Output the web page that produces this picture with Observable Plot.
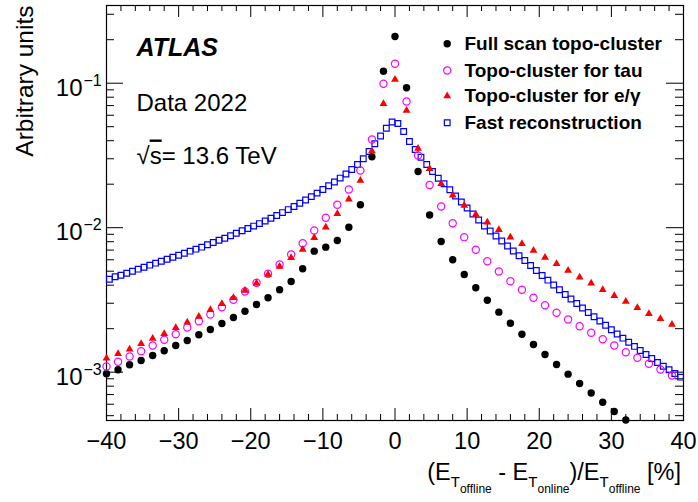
<!DOCTYPE html>
<html><head><meta charset="utf-8">
<script src="https://cdn.jsdelivr.net/npm/d3@7"></script>
<script src="https://cdn.jsdelivr.net/npm/@observablehq/plot@0.6"></script>
<style>
html,body{margin:0;padding:0;background:#fff;}
#chart{width:698px;height:502px;}
</style></head><body><div id="chart"></div>
<script>
// Bin centres (coarse binning for the topo-cluster series, fine for fast reconstruction)
const xCoarse = [-40,-38.4,-36.8,-35.2,-33.6,-32,-30.4,-28.8,-27.2,-25.6,
  -24,-22.4,-20.8,-19.2,-17.6,-16,-14.4,-12.8,-11.2,-9.6,
  -8,-6.4,-4.8,-3.2,-1.6,0,1.6,3.2,4.8,6.4,
  8,9.6,11.2,12.8,14.4,16,17.6,19.2,20.8,22.4,
  24,25.6,27.2,28.8,30.4,32,33.6,35.2,36.8,38.4];
const xFine = [-39.6,-38.8,-38,-37.2,-36.4,-35.6,-34.8,-34,-33.2,-32.4,
  -31.6,-30.8,-30,-29.2,-28.4,-27.6,-26.8,-26,-25.2,-24.4,
  -23.6,-22.8,-22,-21.2,-20.4,-19.6,-18.8,-18,-17.2,-16.4,
  -15.6,-14.8,-14,-13.2,-12.4,-11.6,-10.8,-10,-9.2,-8.4,
  -7.6,-6.8,-6,-5.2,-4.4,-3.6,-2.8,-2,-1.2,-0.4,
  0.4,1.2,2,2.8,3.6,4.4,5.2,6,6.8,7.6,
  8.4,9.2,10,10.8,11.6,12.4,13.2,14,14.8,15.6,
  16.4,17.2,18,18.8,19.6,20.4,21.2,22,22.8,23.6,
  24.4,25.2,26,26.8,27.6,28.4,29.2,30,30.8,31.6,
  32.4,33.2,34,34.8,35.6,36.4,37.2,38,38.8,39.6];

const fullScan = [0.000975,0.001039,0.001125,0.001205,0.001305,0.001407,0.00153,0.001657,0.001815,0.001975,
  0.002173,0.00239,0.002643,0.002941,0.003273,0.003717,0.004243,0.005195,0.006879,0.007332,
  0.008155,0.01008,0.01441,0.03095,0.1211,0.2104,0.09294,0.02448,0.01224,0.008026,
  0.006004,0.004745,0.003838,0.00315,0.002602,0.00218,0.001829,0.001555,0.001326,0.001131,
  0.000969,0.000835,0.000718,0.000619,0.000535,0.000467,null,null,null,null];
const topoTau = [0.001095,0.00118,0.001284,0.001398,0.00153,0.001676,0.001832,0.002038,0.002254,0.002508,
  0.002817,0.00317,0.003618,0.004156,0.004797,0.005564,0.006524,0.007811,0.009563,0.01171,
  0.01441,0.01838,0.02488,0.04078,0.09904,0.1362,0.0747,0.0316,0.01975,0.01402,
  0.01074,0.0086,0.007034,0.005863,0.004977,0.004264,0.003717,0.003273,0.002909,0.002577,
  0.002316,0.002081,0.001874,0.001692,0.00153,0.001375,0.001258,0.001143,0.001044,0.000949];
const topoEgamma = [0.00125,0.00134,0.001443,0.001572,0.001711,0.001844,0.002029,0.002218,0.002429,0.002703,
  0.002975,0.003273,0.003676,0.00413,0.004745,0.005389,0.006189,0.007066,0.008513,0.01008,
  0.01248,0.01575,0.02121,0.03395,0.07203,0.1061,0.06473,0.03533,0.02557,0.02013,
  0.01679,0.01425,0.01234,0.01092,0.009672,0.0086,0.007738,0.006955,0.006219,0.005627,
  0.005057,0.004545,0.00413,0.003717,0.003379,0.003085,0.002791,0.002537,0.002342,0.002138];
const fastReco = [0.004401,0.004572,0.004691,0.004842,0.005,0.005162,0.005329,0.005502,0.00568,0.005863,
  0.006053,0.006248,0.006451,0.00666,0.006879,0.0071,0.007332,0.007616,0.0079,0.008194,
  0.008459,0.008788,0.00916,0.009517,0.009874,0.01026,0.01068,0.01113,0.01162,0.01214,
  0.01272,0.01334,0.01402,0.01476,0.01555,0.01641,0.01735,0.01838,0.0195,0.02072,
  0.02204,0.02353,0.02528,0.02737,0.02998,0.03368,0.03807,0.04311,0.04874,0.05389,
  0.05261,0.04632,0.03949,0.03477,0.03075,0.02737,0.02448,0.02201,0.02013,0.01829,
  0.01657,0.01506,0.01369,0.01244,0.01131,0.01028,0.009488,0.008762,0.008091,0.00747,
  0.006899,0.00639,0.005929,0.005475,0.005057,0.004668,0.004332,0.004013,0.003717,0.003449,
  0.003211,0.002988,0.002782,0.002589,0.002418,0.002261,0.002111,0.001968,0.001838,0.001719,
  0.00161,0.001508,0.001413,0.001326,0.001244,0.001167,0.0011,0.001039,0.00098,0.000924];

const seriesNames = ["Full scan topo-cluster","Topo-cluster for tau","Topo-cluster for e/\u03b3","Fast reconstruction"];
const xMajorTicks = [-40,-30,-20,-10,0,10,20,30,40];
const xMinorTicks = [-38,-36,-34,-32,-28,-26,-24,-22,-18,-16,-14,-12,-8,-6,-4,-2,2,4,6,8,12,14,16,18,22,24,26,28,32,34,36,38];
const yMajorTicks = [0.1,0.01,0.001];
const yMinorTicks = [0.0005,0.0006,0.0007,0.0008,0.0009,0.002,0.003,0.004,0.005,0.006,0.007,0.008,0.009,
  0.02,0.03,0.04,0.05,0.06,0.07,0.08,0.09,0.2,0.3];
const yDomain = [0.000463, 0.345];
const xDomain = [-40, 40];

const W = 698, H = 502, mL = 106, mR = 15, mT = 5, mB = 82;
const FW = W - mL - mR, FH = H - mT - mB;
const font = "'Liberation Sans', Arial, Helvetica, sans-serif";
const pts = (xs, ys) => xs.map((x, i) => ({x, y: ys[i]})).filter(d => d.y != null);

const legendX = 446.7 - mL, legendTextX = 464 - mL;
const legendRows = [43.3, 70, 95.5, 122.3].map(v => v - mT);

const plot = Plot.plot({
  width: W, height: H,
  marginLeft: mL, marginRight: mR, marginTop: mT, marginBottom: mB,
  style: {fontFamily: font, background: "white", color: "black", overflow: "visible"},
  x: {domain: xDomain, axis: null},
  y: {type: "log", domain: yDomain, axis: null},
  marks: [
    // inward ticks (ROOT style) on all four sides
    Plot.tickX(xMajorTicks, {x: d => d, insetTop: FH - 12, stroke: "black"}),
    Plot.tickX(xMinorTicks, {x: d => d, insetTop: FH - 6, stroke: "black"}),
    Plot.tickX(xMajorTicks, {x: d => d, insetBottom: FH - 12, stroke: "black"}),
    Plot.tickX(xMinorTicks, {x: d => d, insetBottom: FH - 6, stroke: "black"}),
    Plot.tickY(yMajorTicks, {y: d => d, insetRight: FW - 17, stroke: "black"}),
    Plot.tickY(yMinorTicks, {y: d => d, insetRight: FW - 8, stroke: "black"}),
    Plot.tickY(yMajorTicks, {y: d => d, insetLeft: FW - 17, stroke: "black"}),
    Plot.tickY(yMinorTicks, {y: d => d, insetLeft: FW - 8, stroke: "black"}),
    Plot.frame({stroke: "black", strokeWidth: 1.2}),
    // x tick labels
    Plot.axisX(xMajorTicks, {tickSize: 0, tickPadding: 12, fontSize: 23.5, label: null,
      tickFormat: d => d < 0 ? "\u2212" + Math.abs(d) : String(d)}),
    // y tick labels 10^n
    Plot.text(yMajorTicks, {y: d => d, frameAnchor: "left", dx: -24, dy: 5, text: () => "10",
      textAnchor: "end", fontSize: 24}),
    Plot.text(yMajorTicks, {y: d => d, frameAnchor: "left", dx: -23, dy: -2.5,
      text: d => "\u2212" + Math.round(-Math.log10(d)), textAnchor: "start", fontSize: 16}),
    // y title
    Plot.text(["Arbitrary units"], {frameAnchor: "top-left", dx: -91, dy: 0, rotate: -90,
      textAnchor: "end", fontSize: 24.5, text: d => d}),
    // data
    Plot.dot(pts(xFine, fastReco), {x: "x", y: "y", symbol: "square", r: 3.2, fill: "none", stroke: "#0000ff", strokeWidth: 1.2}),
    Plot.dot(pts(xCoarse, fullScan), {x: "x", y: "y", r: 3.7, fill: "black"}),
    Plot.dot(pts(xCoarse, topoTau), {x: "x", y: "y", r: 3.6, fill: "none", stroke: "#ff00ff", strokeWidth: 1.2}),
    Plot.dot(pts(xCoarse, topoEgamma), {x: "x", y: "y", symbol: "triangle", r: 2.9, fill: "#ff0000"}),
    // legend
    Plot.dot([0], {frameAnchor: "top-left", dx: legendX, dy: legendRows[0], r: 3.7, fill: "black"}),
    Plot.dot([0], {frameAnchor: "top-left", dx: legendX, dy: legendRows[1], r: 3.6, fill: "none", stroke: "#ff00ff", strokeWidth: 1.2}),
    Plot.dot([0], {frameAnchor: "top-left", dx: legendX, dy: legendRows[2], symbol: "triangle", r: 2.9, fill: "#ff0000"}),
    Plot.dot([0], {frameAnchor: "top-left", dx: legendX, dy: legendRows[3], symbol: "square", r: 3.2, fill: "none", stroke: "#0000ff", strokeWidth: 1.2}),
    ...seriesNames.map((s, i) => Plot.text([s], {frameAnchor: "top-left", dx: legendTextX, dy: legendRows[i],
      text: d => d, textAnchor: "start", lineAnchor: "middle", fontWeight: "bold", fontSize: 19})),
    // annotations
    Plot.text(["ATLAS"], {frameAnchor: "top-left", dx: 30, dy: 50, text: d => d, textAnchor: "start",
      lineAnchor: "bottom", fontWeight: "bold", fontStyle: "italic", fontSize: 25}),
    Plot.text(["Data 2022"], {frameAnchor: "top-left", dx: 30, dy: 105, text: d => d, textAnchor: "start",
      lineAnchor: "bottom", fontSize: 24}),
    Plot.text(["\u221As= 13.6 TeV"], {frameAnchor: "top-left", dx: 30, dy: 158, text: d => d, textAnchor: "start",
      lineAnchor: "bottom", fontSize: 24})
  ]
});

const svg = d3.select(plot);

// overline on the "s" of √s (ROOT style)
svg.selectAll("text").filter(function() { return this.textContent === "\u221As= 13.6 TeV"; })
  .each(function() {
    const el = d3.select(this);
    el.text(null);
    el.append("tspan").text("\u221A");
    el.append("tspan").style("text-decoration", "overline").text("s");
    el.append("tspan").text("= 13.6 TeV");
  });

// x-axis title with nested subscripts
const t = svg.append("text").attr("x", 681).attr("y", 480).attr("text-anchor", "end")
  .attr("font-size", 23.5).attr("font-family", font).attr("fill", "black");
const parts = [["(E", 0, 23.5], ["T", 7, 15], ["offline", 6, 12], [" - E", -13, 23.5], ["T", 7, 15], ["online", 6, 12],
  [")/E", -13, 23.5], ["T", 7, 15], ["offline", 6, 12], [" [%]", -13, 23.5]];
parts.forEach(([s, dy, fs]) => t.append("tspan").attr("dy", dy).attr("font-size", fs).text(s));

document.getElementById("chart").appendChild(plot);
</script></body></html>
